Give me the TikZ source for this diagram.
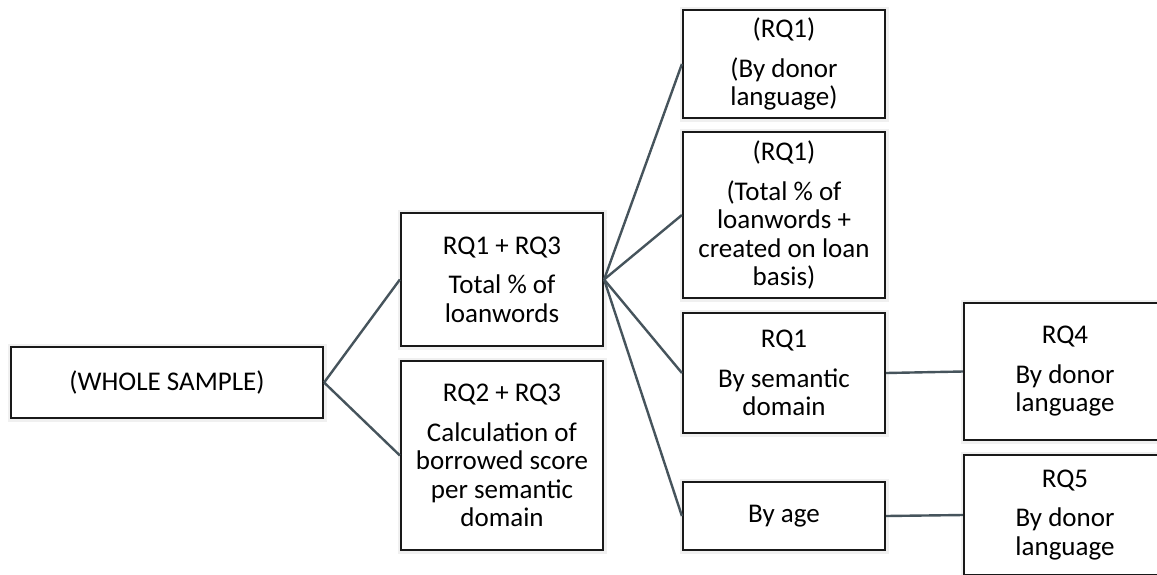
\documentclass[tikz,border=0pt]{standalone}
\usepackage{fontspec}
\setmainfont{Carlito}
\definecolor{lineclr}{RGB}{70,84,92}
\definecolor{boxclr}{RGB}{25,25,25}
\begin{document}
\begin{tikzpicture}[x=1pt,y=-1pt,
  box/.style={draw=boxclr, line width=2.2pt, fill=white, align=center,
    inner sep=0pt, anchor=center,
    font=\fontsize{27}{28.5}\selectfont,
    preaction={draw=black!6, line width=7pt}},
  link/.style={draw=lineclr, line width=2.4pt}]
\useasboundingbox (0,0) rectangle (1157,574);
\clip (0,0) rectangle (1157,574);
\fill[white] (0,0) rectangle (1157,574);

\node[box, minimum width=312pt, minimum height=71pt] (ws) at (167,382.5) {(WHOLE SAMPLE)};
\node[box, minimum width=202pt, minimum height=133pt] (a) at (502,279.5)
  {RQ1 + RQ3\\[11pt]Total \% of\\loanwords};
\node[box, minimum width=202pt, minimum height=189pt] (b) at (502,455.5)
  {RQ2 + RQ3\\[11pt]Calculation of\\borrowed score\\per semantic\\domain};
\node[box, minimum width=202pt, minimum height=108pt] (c1) at (784,64)
  {(RQ1)\\[11pt](By donor\\language)};
\node[box, minimum width=202pt, minimum height=166pt] (c2) at (784,215)
  {(RQ1)\\[11pt](Total \% of\\loanwords +\\created on loan\\basis)};
\node[box, minimum width=202pt, minimum height=120pt] (c3) at (784,373)
  {RQ1\\[11pt]By semantic\\domain};
\node[box, minimum width=202pt, minimum height=68pt] (c4) at (784,516)
  {By age};
\node[box, minimum width=202pt, minimum height=137pt] (d1) at (1065,371.5)
  {RQ4\\[11pt]By donor\\language};
\node[box, minimum width=202pt, minimum height=120pt] (d2) at (1065,515)
  {RQ5\\[11pt]By donor\\language};

\draw[link] (ws.east) -- (a.west);
\draw[link] (ws.east) -- (b.west);
\draw[link] (a.east) -- (c1.west);
\draw[link] (a.east) -- (c2.west);
\draw[link] (a.east) -- (c3.west);
\draw[link] (a.east) -- (c4.west);
\draw[link] (c3.east) -- (d1.west);
\draw[link] (c4.east) -- (d2.west);
\end{tikzpicture}
\end{document}
